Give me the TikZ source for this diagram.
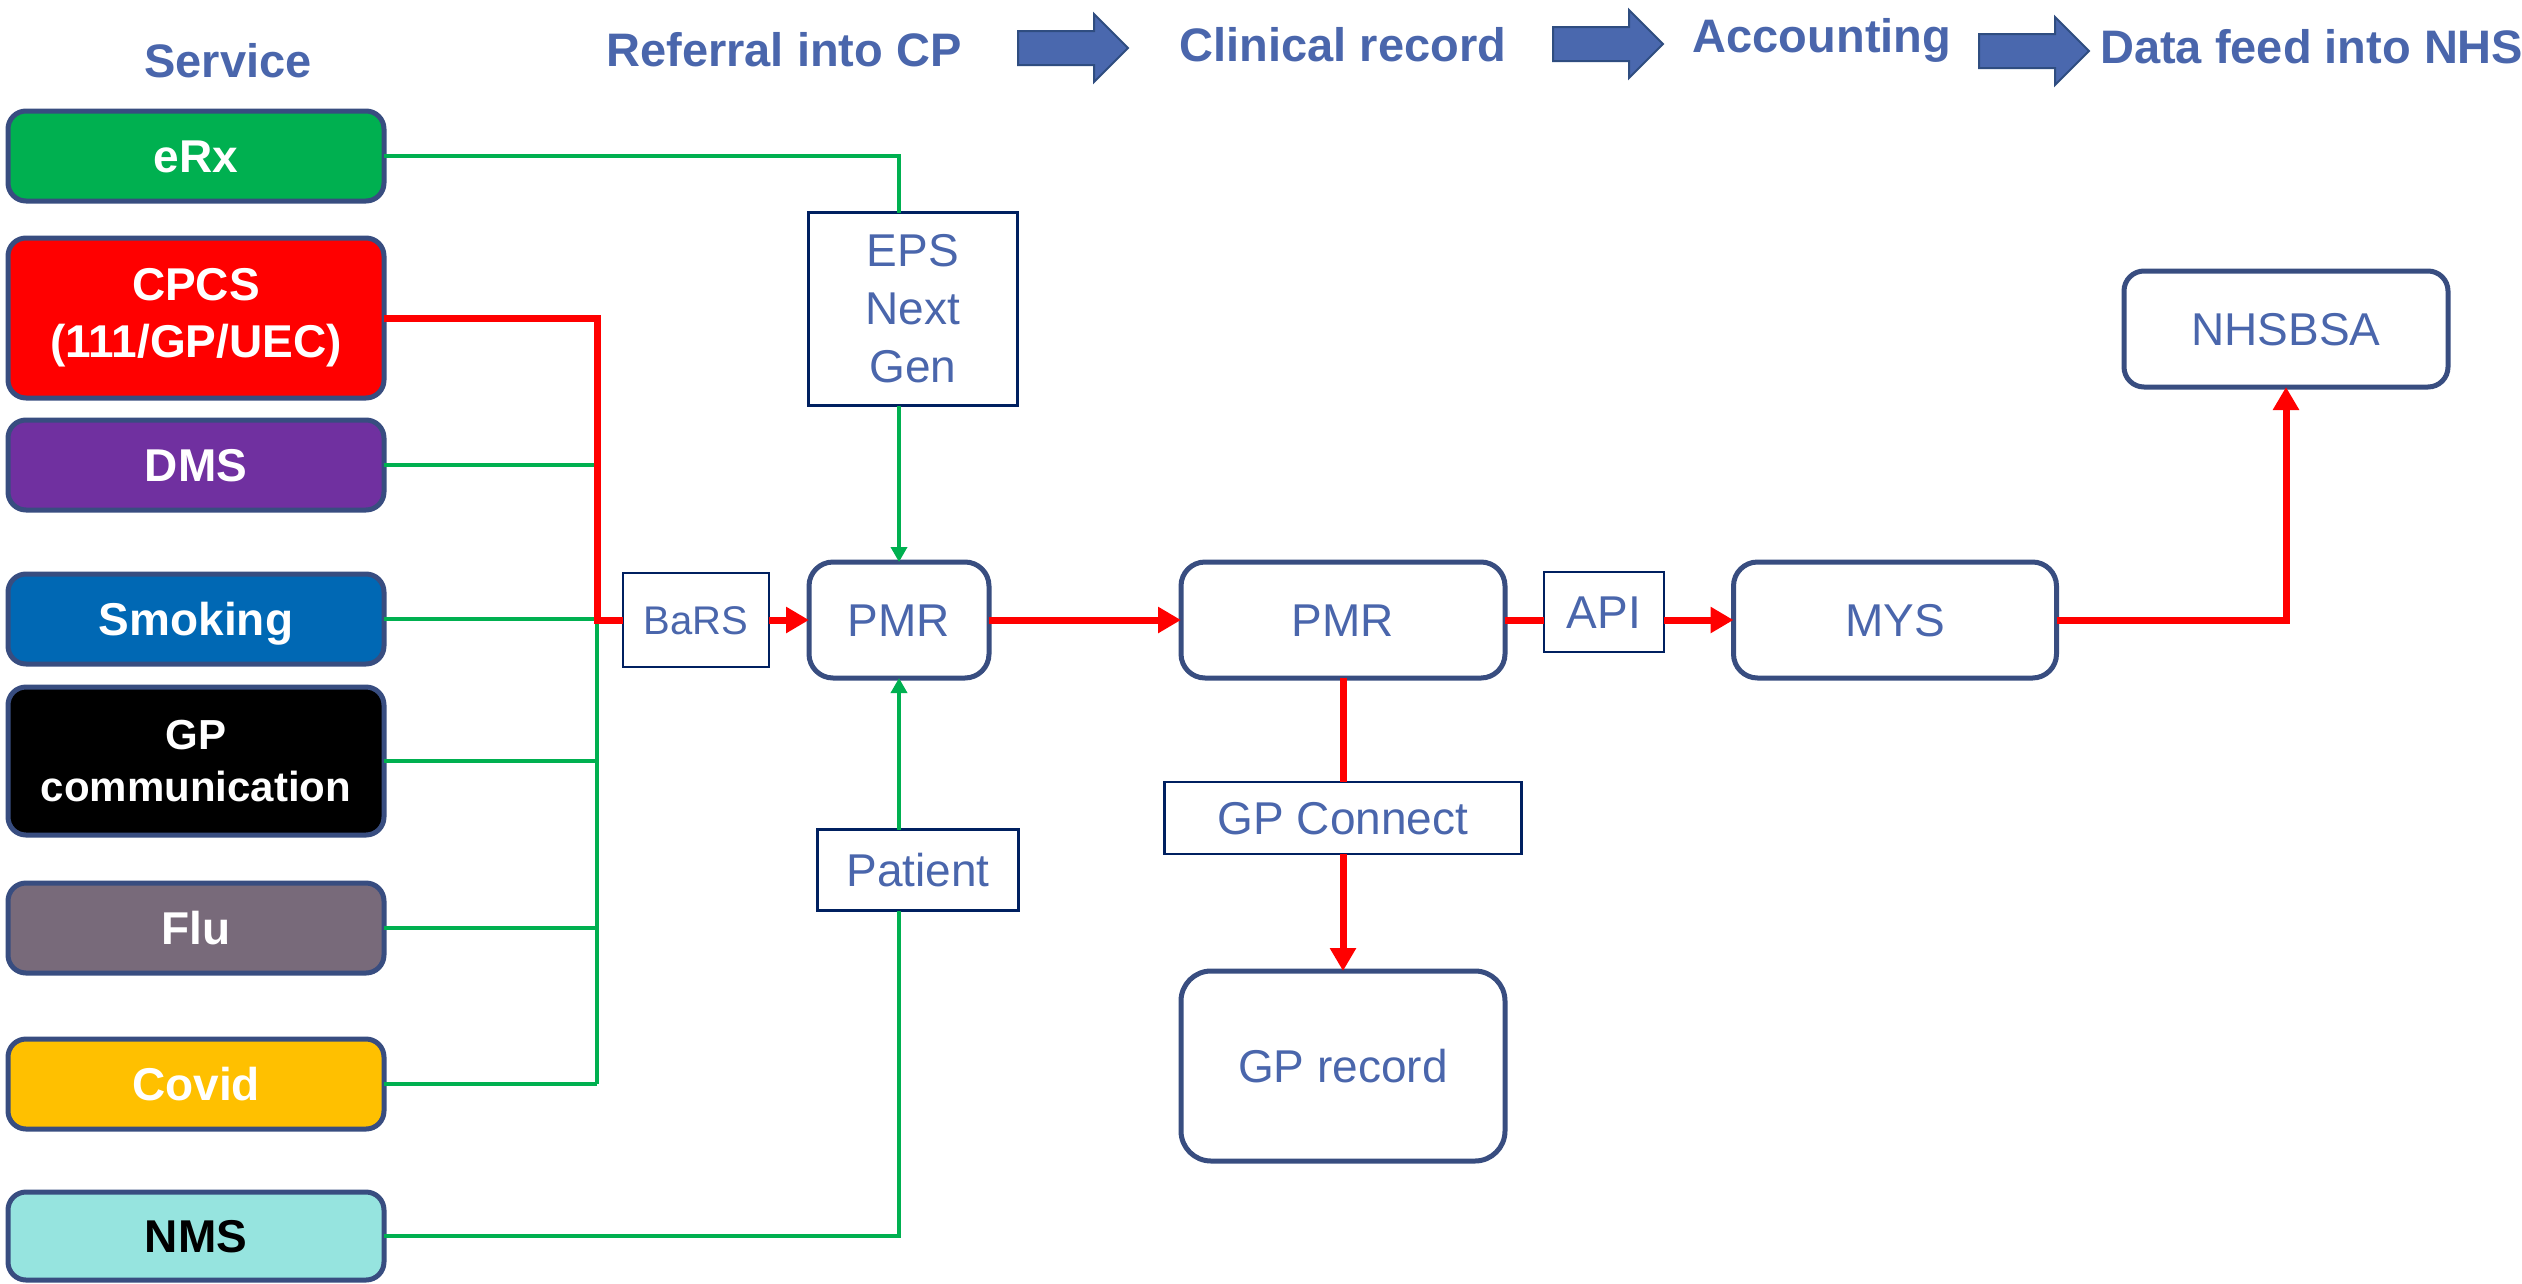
\documentclass[tikz,border=0pt]{standalone}
\usepackage{fontspec}
\setmainfont{Liberation Sans}
\usetikzlibrary{arrows.meta}
\definecolor{tblue}{HTML}{4A66AC}
\definecolor{boxline}{HTML}{384D80}
\definecolor{navy}{HTML}{002060}
\definecolor{cgreen}{HTML}{00B050}
\definecolor{cred}{HTML}{FF0000}
\definecolor{cdms}{HTML}{7030A0}
\definecolor{csmk}{HTML}{0068B4}
\definecolor{cflu}{HTML}{786A7A}
\definecolor{ccov}{HTML}{FFC000}
\definecolor{cnms}{HTML}{96E4DF}
\definecolor{arrfill}{HTML}{4A68AE}
\definecolor{arrline}{HTML}{2F4D80}
\begin{document}
\begin{tikzpicture}[x=1pt,y=-1pt,
  svc/.style={draw=boxline, line width=5pt, rounded corners=18pt, minimum width=376pt,
    inner sep=0pt, outer sep=0pt, text=white, align=center,
    font=\fontsize{46}{57}\bfseries\selectfont},
  one/.style={text height=33pt, text depth=0pt},
  onesm/.style={text height=28.6pt, text depth=0pt},
  rbox/.style={draw=boxline, line width=5pt, rounded corners=24pt, fill=white, text=tblue,
    inner sep=0pt, outer sep=0pt, align=center, font=\fontsize{46}{57}\selectfont},
  lbl/.style={draw=navy, line width=2.5pt, fill=white, text=tblue, inner sep=0pt,
    outer sep=0pt, align=center, font=\fontsize{46}{58}\selectfont},
  ttl/.style={text=tblue, inner sep=0pt, font=\fontsize{47}{56}\bfseries\selectfont},
  gline/.style={draw=cgreen, line width=3.5pt},
  garrow/.style={draw=cgreen, line width=3.5pt, -{Triangle[width=16pt,length=15pt]}},
  rline/.style={draw=cred, line width=7pt},
  rarrow/.style={draw=cred, line width=7pt, -{Triangle[width=25pt,length=23pt]}},
  blockarr/.pic={\draw[fill=arrfill, draw=arrline, line width=2pt]
    (0,-17) -- (76,-17) -- (76,-34) -- (110,0) -- (76,34) -- (76,17) -- (0,17) -- cycle;}
]
\useasboundingbox (0,0) rectangle (2522,1283);
\fill[white] (0,0) rectangle (2522,1283);

% titles
\node[ttl, one] (tsvc) at (228,61) {Service};
\node[ttl, one] (t1) at (784,50) {Referral into CP};
\node[ttl, one] (t2) at (1343,45) {Clinical record};
\node[ttl, one] (t3) at (1822,36) {Accounting};
\node[ttl, one, anchor=west] (t4) at (2100,47) {Data feed into NHS};
\pic at (1018,48) {blockarr};
\pic at (1553,44) {blockarr};
\pic at (1979,51) {blockarr};

% service boxes
\node[svc, one, fill=cgreen, minimum height=90pt] (eRx) at (196,156) {eRx};
\node[svc, fill=cred, minimum height=160pt] (CPCS) at (196,318) {CPCS\\(111/GP/UEC)};
\node[svc, one, fill=cdms, minimum height=90pt] (DMS) at (196,465) {DMS};
\node[svc, one, fill=csmk, minimum height=90pt] (Smk) at (196,619) {Smoking};
\node[svc, fill=black, minimum height=148pt, font=\fontsize{42}{52}\bfseries\selectfont] (GPc) at (196,761) {GP\\communication};
\node[svc, one, fill=cflu, minimum height=90pt] (Flu) at (196,928) {Flu};
\node[svc, one, fill=ccov, minimum height=90pt] (Cov) at (196,1084) {Covid};
\node[svc, one, fill=cnms, text=black, minimum height=88pt] (NMS) at (196,1236) {NMS};

% right-hand nodes
\node[lbl, onesm, minimum width=146pt, minimum height=94pt, font=\fontsize{40}{50}\selectfont] (BaRS) at (696,620) {BaRS};
\node[rbox, one, minimum width=180pt, minimum height=116pt] (PMR1) at (899,620) {PMR};
\node[lbl, minimum width=209pt, minimum height=193pt] (EPS) at (913,309) {EPS\\Next\\Gen};
\node[lbl, one, minimum width=201pt, minimum height=81pt] (Pat) at (918,870) {Patient};
\node[rbox, one, minimum width=324pt, minimum height=116pt] (PMR2) at (1343,620) {PMR};
\node[lbl, one, minimum width=120pt, minimum height=80pt] (API) at (1604,612) {API};
\node[rbox, one, minimum width=323pt, minimum height=116pt] (MYS) at (1895,620) {MYS};
\node[rbox, one, minimum width=324pt, minimum height=116pt, rounded corners=20pt] (NHS) at (2286,329) {NHSBSA};
\node[lbl, one, minimum width=357pt, minimum height=72pt] (GPC) at (1343,818) {GP Connect};
\node[rbox, one, minimum width=324pt, minimum height=190pt, rounded corners=30pt] (GPR) at (1343,1066) {GP record};

\coordinate (bus) at (597,0);

% green connectors
\draw[gline] (eRx.east) -| (EPS.north -| PMR1.north);
\draw[garrow] (EPS.south -| PMR1.north) -- (PMR1.north);
\draw[gline] (NMS.east) -| (Pat.south -| PMR1.south);
\draw[garrow] (Pat.north -| PMR1.south) -- (PMR1.south);
\draw[gline] (DMS.east) -- (DMS.east -| bus);
\draw[gline] (Smk.east) -- (Smk.east -| bus);
\draw[gline] (GPc.east) -- (GPc.east -| bus);
\draw[gline] (Flu.east) -- (Flu.east -| bus);
\draw[gline] (Cov.east) -- (Cov.east -| bus);
\draw[gline] (DMS.east -| bus) -- (Cov.east -| bus);

% red connectors
\draw[rline] (CPCS.east) -| (BaRS.west -| bus) -- (BaRS.west);
\draw[rarrow] (BaRS.east) -- (PMR1.west);
\draw[rarrow] (PMR1.east) -- (PMR2.west);
\draw[rline] (PMR2.east) -- (PMR2.east -| API.west);
\draw[rarrow] (PMR2.east -| API.east) -- (MYS.west);
\draw[rarrow] (MYS.east) -| (NHS.south);
\draw[rline] (PMR2.south) -- (GPC.north);
\draw[rarrow] (GPC.south) -- (GPR.north);
\end{tikzpicture}
\end{document}
